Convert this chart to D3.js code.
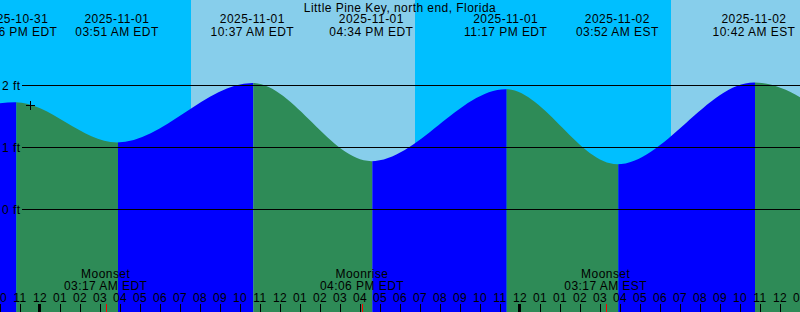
<!DOCTYPE html>
<html>
<head>
<meta charset="utf-8">
<script src="https://cdn.jsdelivr.net/npm/d3@7"></script>
<style>
  html, body { margin: 0; padding: 0; background: #fff; }
  svg { display: block; font-family: "Liberation Sans", Arial, sans-serif; letter-spacing: 0.45px; }
</style>
</head>
<body>
<script>
const width = 800;
const height = 312;

const title = 'Little Pine Key, north end, Florida';

// tide extremes, UTC (first and last lie outside the window)
const tideTimes = ['2025-10-31T20:20Z', '2025-11-01T02:46Z', '2025-11-01T07:51Z', '2025-11-01T14:37Z',
  '2025-11-01T20:34Z', '2025-11-02T03:17Z', '2025-11-02T08:52Z', '2025-11-02T15:42Z', '2025-11-02T21:56Z'];
const tideLevels = [0.95, 1.73, 1.08, 2.04, 0.78, 1.94, 0.73, 2.05, 0.72];
const tideDates = ['', '2025-10-31', '2025-11-01', '2025-11-01', '2025-11-01', '2025-11-01', '2025-11-02', '2025-11-02', ''];
const tideClock = ['', '10:46 PM EDT', '03:51 AM EDT', '10:37 AM EDT', '04:34 PM EDT', '11:17 PM EDT',
  '03:52 AM EST', '10:42 AM EST', ''];

const sunTimes = ['2025-11-01T11:33Z', '2025-11-01T22:45Z', '2025-11-02T11:33Z'];
const sunKinds = ['rise', 'set', 'rise'];

const moonTimes = ['2025-11-01T07:17Z', '2025-11-01T20:06Z', '2025-11-02T08:17Z'];
const moonNames = ['Moonset', 'Moonrise', 'Moonset'];
const moonClock = ['03:17 AM EDT', '04:06 PM EDT', '03:17 AM EST'];

const windowStart = '2025-11-01T02:00Z';
const windowEnd = '2025-11-02T18:00Z';
const hourLabels = ['10', '11', '12', '01', '02', '03', '04', '05', '06', '07', '08', '09', '10', '11',
  '12', '01', '02', '03', '04', '05', '06', '07', '08', '09', '10', '11', '12', '01', '01', '02', '03',
  '04', '05', '06', '07', '08', '09', '10', '11', '12', '01'];
const midnights = ['2025-11-01T04:00Z', '2025-11-02T04:00Z'];

const footLevels = [0, 1, 2];
const nowMark = { time: '2025-11-01T03:31Z', level: 1.69 };

const colors = {
  night: '#00bfff',
  day: '#87ceeb',
  rising: '#0000ff',
  falling: '#2e8b57'
};

const x = d3.scaleUtc()
  .domain([new Date(windowStart), new Date(windowEnd)])
  .range([0, width]);

const y = d3.scaleLinear()
  .domain([0, 2])
  .range([209.5, 85.5]);

const svg = d3.select(document.body)
  .append('svg')
  .attr('width', width)
  .attr('height', height);

// sky bands
const skyEdges = [windowStart, ...sunTimes, windowEnd].map(d => new Date(d));
const skyBands = d3.pairs(skyEdges).map(([a, b], i) => ({
  a, b, day: i > 0 && sunKinds[i - 1] === 'rise'
}));

svg.append('g')
  .selectAll('rect')
  .data(skyBands)
  .join('rect')
  .attr('x', d => x(d.a))
  .attr('width', d => x(d.b) - x(d.a))
  .attr('y', 0)
  .attr('height', height)
  .attr('fill', d => d.day ? colors.day : colors.night);

// water
const tide = tideTimes.map((t, i) => ({ t: new Date(t), v: tideLevels[i] }));

const area = d3.area()
  .x(d => x(d.t))
  .y0(height)
  .y1(d => y(d.v))
  .curve(d3.curveMonotoneX);

svg.append('clipPath')
  .attr('id', 'water')
  .append('path')
  .attr('d', area(tide));

svg.append('g')
  .attr('clip-path', 'url(#water)')
  .selectAll('rect')
  .data(d3.pairs(tide))
  .join('rect')
  .attr('x', d => x(d[0].t) + 1)
  .attr('width', d => x(d[1].t) - x(d[0].t))
  .attr('y', 0)
  .attr('height', height)
  .attr('fill', d => d[1].v > d[0].v ? colors.rising : colors.falling);

// foot lines
const feet = svg.append('g');
feet.selectAll('line')
  .data(footLevels)
  .join('line')
  .attr('x1', 22)
  .attr('x2', width)
  .attr('y1', d => y(d))
  .attr('y2', d => y(d))
  .attr('stroke', '#000')
  .attr('stroke-width', 1);

feet.selectAll('text')
  .data(footLevels)
  .join('text')
  .attr('x', 2)
  .attr('y', d => y(d))
  .attr('dy', '0.35em')
  .style('font-size', '12px')
  .text(d => `${d} ft`);

// now marker
const nx = Math.round(x(new Date(nowMark.time))) + 0.5;
const ny = Math.round(y(nowMark.level)) + 0.5;
svg.append('path')
  .attr('d', `M${nx - 4.5},${ny}H${nx + 4.5}M${nx},${ny - 4.5}V${ny + 4.5}`)
  .attr('stroke', '#000')
  .attr('fill', 'none');

// title
svg.append('text')
  .attr('x', width / 2)
  .attr('y', 12)
  .attr('text-anchor', 'middle')
  .style('font-size', '12px')
  .text(title);

// tide event labels
const labelled = tide.map((d, i) => ({ ...d, date: tideDates[i], clock: tideClock[i] }))
  .filter(d => d.date);

const eventLabels = svg.append('g')
  .selectAll('g')
  .data(labelled)
  .join('g')
  .attr('transform', d => `translate(${x(d.t)},0)`)
  .attr('text-anchor', 'middle')
  .style('font-size', '12px');

eventLabels.append('text').attr('y', 23).text(d => d.date);
eventLabels.append('text').attr('y', 36).text(d => d.clock);

// hour ticks
const start = new Date(windowStart);
const hours = hourLabels.map((label, i) => ({ t: d3.utcHour.offset(start, i), label }));
const midnightX = midnights.map(d => x(new Date(d)));

const ticks = svg.append('g');
ticks.selectAll('rect')
  .data(hours)
  .join('rect')
  .attr('x', d => midnightX.includes(x(d.t)) ? x(d.t) - 2 : x(d.t))
  .attr('width', d => midnightX.includes(x(d.t)) ? 3 : 1)
  .attr('y', 304)
  .attr('height', 8)
  .attr('fill', '#000');

ticks.selectAll('text')
  .data(hours)
  .join('text')
  .attr('x', d => x(d.t))
  .attr('y', 301.5)
  .attr('text-anchor', 'middle')
  .style('font-size', '12px')
  .text(d => d.label);

// moon events
const moon = moonTimes.map((t, i) => ({ t: new Date(t), name: moonNames[i], clock: moonClock[i] }));

svg.append('g')
  .selectAll('rect')
  .data(moon)
  .join('rect')
  .attr('x', d => Math.round(x(d.t)))
  .attr('width', 1)
  .attr('y', 304)
  .attr('height', 8)
  .attr('fill', '#ff0000');

const moonText = svg.append('g')
  .selectAll('g')
  .data(moon)
  .join('g')
  .attr('transform', d => `translate(${x(d.t)},0)`)
  .attr('text-anchor', 'middle')
  .style('font-size', '12px');

moonText.append('text').attr('y', 278).text(d => d.name);
moonText.append('text').attr('y', 290).text(d => d.clock);
</script>
</body>
</html>
